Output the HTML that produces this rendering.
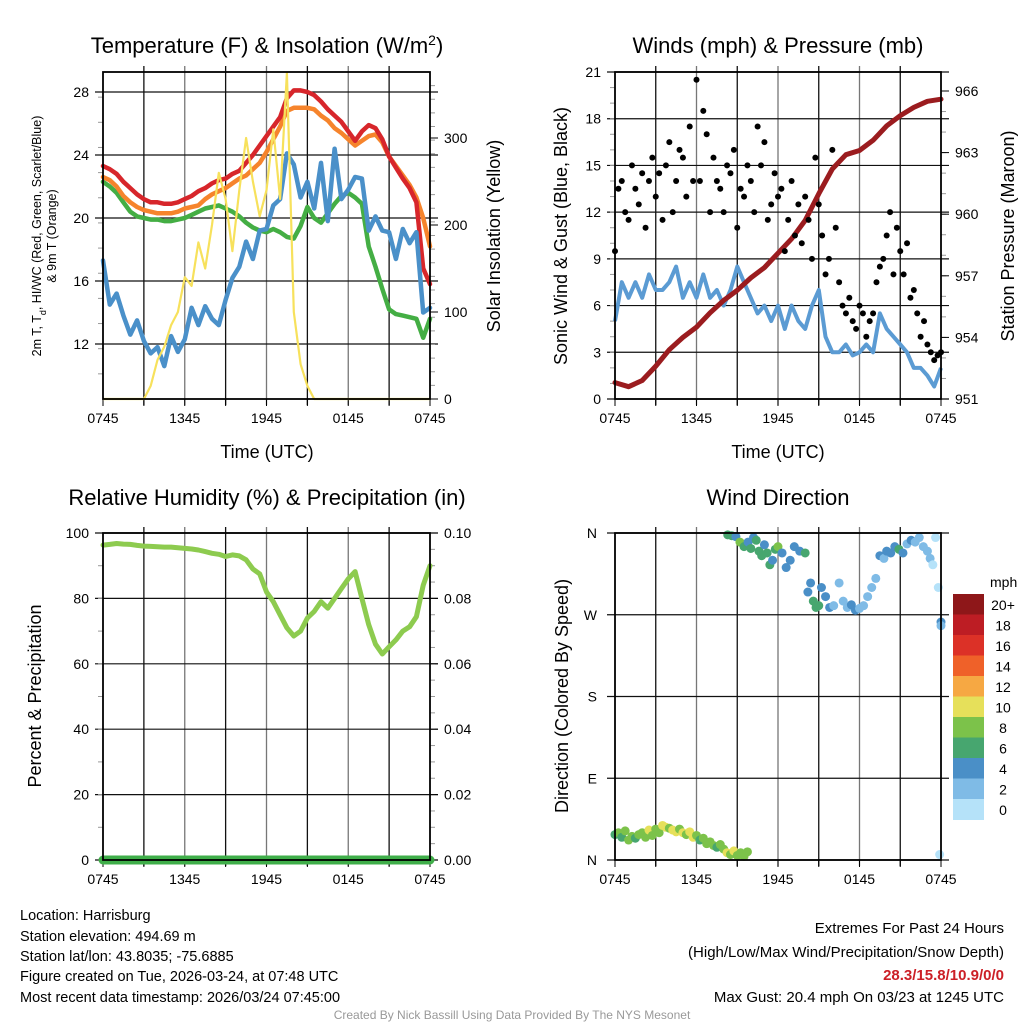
<!DOCTYPE html>
<html><head><meta charset="utf-8">
<style>
html,body{margin:0;padding:0;background:#fff;}
svg{display:block;font-family:"Liberation Sans",sans-serif;}
</style></head>
<body>
<svg id="chart" width="1024" height="1024" viewBox="0 0 1024 1024" xmlns="http://www.w3.org/2000/svg">
<rect x="0" y="0" width="1024" height="1024" fill="#fff"/>
<g id="layer"></g>
<g font-size="22" text-anchor="middle" fill="#000">
<text x="267" y="53">Temperature (F) &amp; Insolation (W/m<tspan baseline-shift="super" font-size="14">2</tspan>)</text>
<text x="778" y="53">Winds (mph) &amp; Pressure (mb)</text>
<text x="267" y="505">Relative Humidity (%) &amp; Precipitation (in)</text>
<text x="778" y="505">Wind Direction</text>
</g>
<g font-size="18" text-anchor="middle" fill="#000">
<text x="267" y="458">Time (UTC)</text>
<text x="778" y="458">Time (UTC)</text>
<text transform="translate(500,236) rotate(-90)">Solar Insolation (Yellow)</text>
<text transform="translate(567,236) rotate(-90)">Sonic Wind &amp; Gust (Blue, Black)</text>
<text transform="translate(1014,236) rotate(-90)">Station Pressure (Maroon)</text>
<text transform="translate(41,696) rotate(-90)">Percent &amp; Precipitation</text>
<text transform="translate(568,696) rotate(-90)">Direction (Colored By Speed)</text>
</g>
<g font-size="12.5" text-anchor="middle" fill="#000">
<text transform="translate(41,236) rotate(-90)">2m T, T<tspan baseline-shift="sub" font-size="9">d</tspan>, HI/WC (Red, Green, Scarlet/Blue)</text>
<text transform="translate(56,236) rotate(-90)">&amp; 9m T (Orange)</text>
</g>
<g font-size="14.5" fill="#000">
<text x="20" y="920">Location: Harrisburg</text>
<text x="20" y="941">Station elevation: 494.69 m</text>
<text x="20" y="961">Station lat/lon: 43.8035; -75.6885</text>
<text x="20" y="981">Figure created on Tue, 2026-03-24, at 07:48 UTC</text>
<text x="20" y="1002">Most recent data timestamp: 2026/03/24 07:45:00</text>
</g>
<g font-size="15" fill="#000" text-anchor="end">
<text x="1004" y="933">Extremes For Past 24 Hours</text>
<text x="1004" y="957">(High/Low/Max Wind/Precipitation/Snow Depth)</text>
<text x="1004" y="980" fill="#cc2027" font-weight="bold">28.3/15.8/10.9/0/0</text>
<text x="1004" y="1002">Max Gust: 20.4 mph On 03/23 at 1245 UTC</text>
</g>
<text x="512" y="1019" font-size="12" fill="#999" text-anchor="middle">Created By Nick Bassill Using Data Provided By The NYS Mesonet</text>
</svg>
<script>
// ---- data ----
const timeTickLabels = ["0745","1345","1945","0145","0745"];
const tempTicks = [12,16,20,24,28];
const insolTicks = [0,100,200,300];
const windTicks = [0,3,6,9,12,15,18,21];
const pressTicks = [951,954,957,960,963,966];
const rhTicks = [0,20,40,60,80,100];
const precipTicks = ["0.00","0.02","0.04","0.06","0.08","0.10"];
const dirTickLabels = ["N","E","S","W","N"];
const speedBins = ["0","2","4","6","8","10","12","14","16","18","20+"];
const speedColors = ["#b5e2f9","#7fbbe6","#4a8fc7","#47a66f","#7cc24a","#e6e05a","#f6a843","#ef6129","#dc3127","#bd1d24","#8e1719"];

const tempRed = [23.3,23.1,22.8,22.3,21.9,21.5,21.2,21.0,21.0,20.9,20.9,21.0,21.2,21.4,21.7,21.9,22.2,22.4,22.5,22.8,23.0,23.5,24.0,24.6,25.2,25.8,26.4,27.6,28.1,28.1,28.0,27.8,27.4,26.9,26.5,26.1,25.5,24.9,25.5,25.9,25.7,25.0,23.9,23.2,22.5,21.9,21.0,16.8,15.8];
const tempOrange = [22.6,22.4,22.0,21.4,21.0,20.7,20.5,20.4,20.3,20.3,20.3,20.4,20.6,20.7,20.8,21.2,21.5,21.7,21.9,22.2,22.5,22.7,23.1,23.5,24.2,25.0,25.8,26.8,27.0,27.0,27.0,26.9,26.5,26.2,25.7,25.4,25.0,24.6,24.9,25.2,25.3,24.8,23.9,23.3,22.7,22.1,21.3,20.0,18.2];
const tempGreen = [22.3,22.0,21.6,21.0,20.4,20.1,20.0,19.9,19.9,19.8,19.8,19.9,20.0,20.2,20.4,20.6,20.7,20.8,20.6,20.4,20.1,19.7,19.4,19.2,19.1,19.3,19.1,18.8,18.7,19.5,20.7,20.0,19.7,20.3,20.9,21.4,21.6,21.3,20.9,18.2,16.9,15.5,14.2,13.9,13.8,13.7,13.6,12.4,13.6];
const tempBlue = [17.3,14.5,15.2,13.8,12.6,13.5,12.2,11.4,11.8,10.6,12.5,11.5,12.3,14.3,13.2,14.4,13.6,13.2,14.8,16.2,16.9,18.5,17.4,19.2,19.3,20.8,21.2,24.1,23.4,21.3,22.3,20.6,23.5,19.8,24.4,21.2,21.8,22.6,22.5,19.2,20.1,19.2,19.1,17.4,19.3,18.4,19.1,14.0,14.3];
const insolation = [0,0,0,0,0,0,0,15,45,60,85,100,140,130,180,150,200,260,230,170,240,300,250,210,240,310,230,375,100,40,15,0,0,0,0,0,0,0,0,0,0,0,0,0,0,0,0,0,0];
const windSpeed = [5,7.5,6.5,7.5,6.5,8,7,7,7.5,8.5,6.5,7.5,6.5,8,6.5,7,6,7,8.5,7.5,6.5,5.5,6,5,6,4.5,6,5,4.5,6,7,4,3,3,3.5,2.8,3,3.5,3,5.5,4.5,4,3.5,3,2,2,1.5,0.8,2];
const windGust = [9.5,13.5,14,12,11.5,15,13.5,12.5,14.5,11,14,15.5,13,14.5,11.5,15,16.5,12,14,16,15.5,13,17.5,14,20.5,14,18.5,17,12,15.5,14,13.5,12,15,14.5,16,11,13.5,13,15,14,12,17.5,15,16.5,11.5,12.5,14.5,13,13.5,9.5,11.5,14,10.5,12.5,10,13,11.5,9,15.5,12.5,10.5,8,9,16,11,7.5,6,5.5,6.5,5,4.5,6,5.5,4,5,5.5,7.5,8.5,9,10.5,12,8,11,9.5,8,10,6.5,7,5.5,4,5,3.5,3,2.5,2.8,3];
const pressure = [951.8,951.6,951.9,952.6,953.4,954,954.5,955.2,955.8,956.3,956.9,957.4,958.1,958.8,959.7,961,962.2,962.9,963.1,963.6,964.3,964.8,965.2,965.5,965.6];
const relHumidity = [96.3,96.5,96.8,96.6,96.5,96.2,96,95.9,95.8,95.7,95.7,95.5,95.3,95.1,94.8,94.3,93.8,93.5,92.8,93.3,93,91.8,89,87.5,82,79,75,71,68.5,70,74,76,79,77,80,83,86,88.2,80,72,66,63,65.2,67.3,70,71.3,74.4,84,90];
const precip = [0,0,0,0,0,0,0,0,0,0,0,0,0,0,0,0,0,0,0,0,0,0,0,0,0];
const dirHours = [0,0.25,0.5,0.75,1,1.25,1.5,1.75,2,2.25,2.5,2.75,3,3.25,3.5,3.75,4,4.25,4.5,4.75,5,5.25,5.5,5.75,6,6.25,6.5,6.75,7,7.25,7.5,7.75,8,8.25,8.5,8.75,9,9.25,9.5,9.75,8.3,8.6,8.9,9.2,9.5,9.8,10,10.2,10.4,10.6,10.8,11,11.2,11.4,11.6,11.8,12,12.3,12.6,12.9,13.2,13.6,14,14.2,14.4,14.6,14.8,15,15.2,15.5,15.8,16.1,16.5,16.8,17.1,17.4,17.7,18,18.3,18.6,18.9,19.2,19.5,19.8,20,20.3,20.6,20.9,21.2,21.5,21.8,22.1,22.4,22.7,23,23.2,23.4,23.6,23.8,24,24,23.9];
const dirDegrees = [28,30,25,32,22,26,24,28,30,25,33,27,34,30,38,36,35,33,31,34,30,28,31,25,27,22,24,18,20,16,14,17,12,8,6,10,5,8,4,9,358,357,356,350,345,350,343,355,352,340,335,347,338,325,330,342,345,338,322,330,345,340,338,295,305,285,278,280,300,290,278,280,305,285,278,281,275,277,280,290,300,310,335,332,340,338,345,342,338,348,352,350,355,345,340,332,325,355,300,262,258,6];
const dirSpeeds = [5,7,6,7,8,7,6,7,8,7,9,7,8,8,9,9,8,10,10,8,9,8,9,10,8,6,8,8,7,8,6,7,8,9,7,10,8,8,7,8,6,6,4,8,6,4,6,4,6,6,6,4,6,6,4,6,8,4,4,4,4,4,6,4,4,6,6,6,4,4,4,2,2,2,2,4,4,2,2,2,2,2,4,2,4,4,4,6,4,2,4,2,2,2,2,2,0,0,0,4,2,0];

// ---- helpers ----
const NS="http://www.w3.org/2000/svg";
const layer=document.getElementById('layer');
function mk(tag,attrs,parent){const e=document.createElementNS(NS,tag);for(const k in attrs)e.setAttribute(k,attrs[k]);(parent||layer).appendChild(e);return e;}
function lin(d0,d1,r0,r1){return v=>r0+(v-d0)*(r1-r0)/(d1-d0);}
function hx(x0,x1){return lin(0,24,x0,x1);}
function linePath(vals,step,xs,ys){return vals.map((v,i)=>(i?'L':'M')+xs(i*step).toFixed(1)+','+ys(v).toFixed(1)).join('');}

function frame(x0,x1,y0,y1,name){
  const g=mk('g',{});
  
  
  const xs=hx(x0,x1);
  for(let h=3;h<24;h+=3){
    const l=mk('line',{x1:xs(h),x2:xs(h),y1:y0-6,y2:y1+6,stroke:(h%6===0)?'#777':'#111','stroke-width':1.3},g);
    
    
  }
  for(let h=0;h<=24;h+=3){
    const t=mk('line',{x1:xs(h),x2:xs(h),y1:y1,y2:y1+7,stroke:'#000','stroke-width':1},g);
    
    
  }
  timeTickLabels.forEach((lab,i)=>{
    const t=mk('text',{x:xs(i*6),y:y1+24,'font-size':14,'text-anchor':'middle'},g);
    t.textContent=lab;
    
    
  });
  return g;
}
function hgrid(g,vals,ys,x0,x1){vals.forEach(v=>{const l=mk('line',{x1:x0-8,x2:x1+8,y1:ys(v),y2:ys(v),stroke:'#111','stroke-width':1.2},g);
  
  });}
function leftLabels(g,vals,ys,x,labels){vals.forEach((v,i)=>{const t=mk('text',{x:x-14,y:ys(v)+5,'font-size':14,'text-anchor':'end'},g);t.textContent=labels?labels[i]:v;
  
  });}
function rightTicks(g,vals,ys,x,labels){vals.forEach((v,i)=>{mk('line',{x1:x,x2:x+8,y1:ys(v),y2:ys(v),stroke:'#000'},g);const t=mk('text',{x:x+14,y:ys(v)+5,'font-size':14},g);t.textContent=labels?labels[i]:v;
  
  });}
function minor(g,y0,y1,n,x,dir){for(let i=1;i<n;i++){const y=y0+(y1-y0)*i/n;mk('line',{x1:x,x2:x+dir*5,y1:y,y2:y,stroke:'#999'},g);}}
function border(g,x0,x1,y0,y1){const r=mk('rect',{x:x0,y:y0,width:x1-x0,height:y1-y0,fill:'none',stroke:'#000','stroke-width':1.8},g);
  
  }

// ---- Panel 1: temperature ----
(function(){
  const x0=103,x1=430,y0=72,y1=399;
  const xs=hx(x0,x1), ty=lin(12,28,344,92), iy=lin(0,300,399,138);
  const g=frame(x0,x1,y0,y1,'temperature');
  hgrid(g,tempTicks,ty,x0,x1);
  minor(g,y0,y1,13,x0,-1); minor(g,y0,y1,24,x1,1);
  leftLabels(g,tempTicks,ty,x0);
  rightTicks(g,insolTicks,iy,x1);
  const series=[[tempGreen,'#44ae44','temp-dewpoint-line'],[tempOrange,'#f6842c','temp-9m-line'],[tempRed,'#d7262b','temp-2m-line'],[tempBlue,'#4a90c9','heat-index-line']];
  series.forEach(s=>{const p=mk('path',{d:linePath(s[0],0.5,xs,ty),fill:'none',stroke:s[1],'stroke-width':4.5,'stroke-linejoin':'round','stroke-linecap':'round'},g);
    
    });
  const p=mk('path',{d:linePath(insolation,0.5,xs,iy),fill:'none',stroke:'#f7e15c','stroke-width':2.2,'stroke-linejoin':'round'},g);
  
  
  border(g,x0,x1,y0,y1);
})();

// ---- Panel 2: winds ----
(function(){
  const x0=615,x1=941,y0=72,y1=399;
  const xs=hx(x0,x1), wy=lin(0,21,399,72), py=lin(951,966,399,91);
  const g=frame(x0,x1,y0,y1,'winds');
  hgrid(g,windTicks,wy,x0,x1);
  minor(g,y0,y1,21,x0,-1); minor(g,91,399,15,x1,1);
  leftLabels(g,windTicks,wy,x0);
  rightTicks(g,pressTicks,py,x1);
  const w=mk('path',{d:linePath(windSpeed,0.5,xs,wy),fill:'none',stroke:'#5b9bd3','stroke-width':4,'stroke-linejoin':'round'},g);
  
  
  const pr=mk('path',{d:linePath(pressure,1,xs,py),fill:'none',stroke:'#9b1c1f','stroke-width':5,'stroke-linejoin':'round','stroke-linecap':'round'},g);
  
  
  windGust.forEach((v,i)=>{const c=mk('circle',{cx:xs(i*0.25),cy:wy(v),r:3,fill:'#000'},g);
    
    });
  border(g,x0,x1,y0,y1);
})();

// ---- Panel 3: humidity ----
(function(){
  const x0=103,x1=430,y0=533,y1=860;
  const xs=hx(x0,x1), ry=lin(0,100,860,533), pyy=lin(0,0.1,860,533);
  const g=frame(x0,x1,y0,y1,'humidity');
  hgrid(g,rhTicks,ry,x0,x1);
  minor(g,y0,y1,10,x0,-1); minor(g,y0,y1,20,x1,1);
  leftLabels(g,rhTicks,ry,x0);
  rightTicks(g,[0,0.02,0.04,0.06,0.08,0.1],pyy,x1,precipTicks);
  const pp=mk('path',{d:linePath(precip,1,xs,pyy),fill:'none',stroke:'#3fae49','stroke-width':9,'stroke-linecap':'round'},g);
  
  
  const rh=mk('path',{d:linePath(relHumidity,0.5,xs,ry),fill:'none',stroke:'#8dcb4f','stroke-width':5,'stroke-linejoin':'round','stroke-linecap':'round'},g);
  
  
  border(g,x0,x1,y0,y1);
})();

// ---- Panel 4: wind direction ----
(function(){
  const x0=615,x1=941,y0=533,y1=860;
  const xs=hx(x0,x1), dy=lin(0,360,860,533);
  const g=frame(x0,x1,y0,y1,'direction');
  hgrid(g,[0,90,180,270,360],dy,x0,x1);
  dirTickLabels.forEach((l,i)=>{const t=mk('text',{x:x0-18,y:dy(i*90)+5,'font-size':14,'text-anchor':'end'},g);t.textContent=l;
    
    });
  dirHours.forEach((h,i)=>{const s=dirSpeeds[i];const bin=Math.min(10,Math.floor(s/2+0.5));
    const c=mk('circle',{cx:xs(h),cy:dy(dirDegrees[i]),r:4.5,fill:speedColors[bin]},g);
    
    });
  border(g,x0,x1,y0,y1);
  // colorbar
  const cb=mk('g',{});
  
  
  const t=mk('text',{x:990,y:587,'font-size':14},cb);t.textContent='mph';
  const bh=20.5, top=594;
  speedBins.forEach((lab,i)=>{const k=speedBins.length-1-i;
    const r=mk('rect',{x:953,y:top+i*bh,width:31,height:bh+0.5,fill:speedColors[k]},cb);
    
    
    const tt=mk('text',{x:1003,y:top+i*bh+16,'font-size':14,'text-anchor':'middle'},cb);tt.textContent=speedBins[k];
    
    });
})();
</script>
</body></html>
